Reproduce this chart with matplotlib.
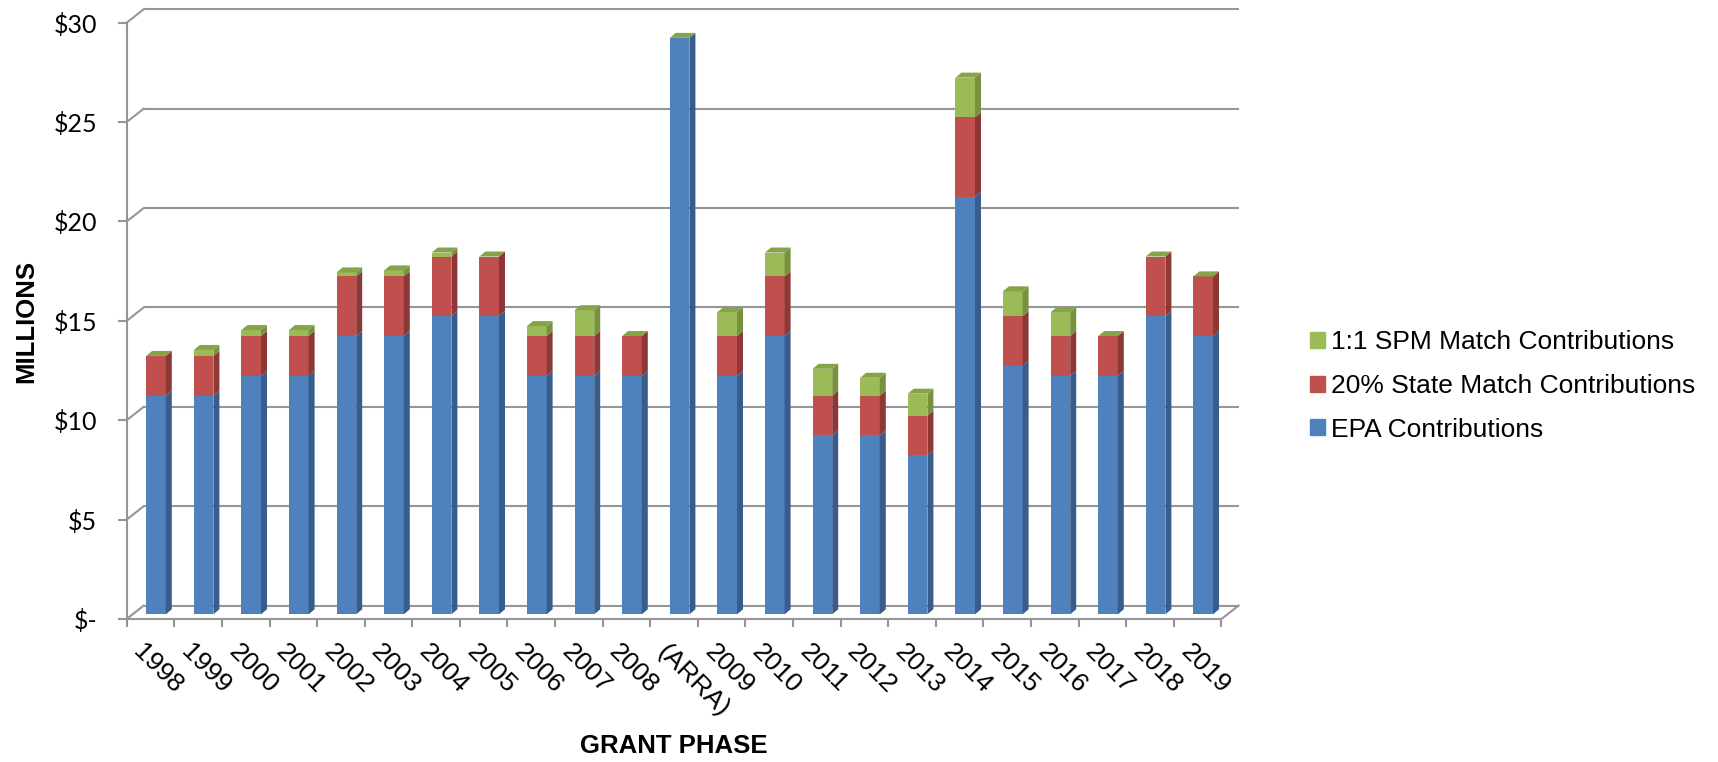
import matplotlib
matplotlib.use("Agg")
import matplotlib.pyplot as plt
from matplotlib.patches import Polygon, Patch
from matplotlib.transforms import ScaledTranslation

plt.rcParams['font.family'] = ['Liberation Sans', 'DejaVu Sans']

# data (millions of $)
phases = ["1998", "1999", "2000", "2001", "2002", "2003", "2004", "2005", "2006",
          "2007", "2008", "(ARRA)", "2009", "2010", "2011", "2012", "2013", "2014",
          "2015", "2016", "2017", "2018", "2019"]
epa = [11, 11, 12, 12, 14, 14, 15, 15, 12, 12, 12, 29, 12, 14, 9, 9, 8, 21, 12.5, 12, 12, 15, 14]
state = [2, 2, 2, 2, 3, 3, 3, 3, 2, 2, 2, 0, 2, 3, 2, 2, 2, 4, 2.5, 2, 2, 3, 3]
spm = [0, 0.3, 0.3, 0.3, 0.2, 0.3, 0.2, 0, 0.5, 1.3, 0, 0, 1.2, 1.2, 1.35, 0.9, 1.1, 2, 1.25, 1.2, 0, 0, 0]
yticks = [0, 5, 10, 15, 20, 25, 30]
ytick_labels = ["$-", "$5", "$10", "$15", "$20", "$25", "$30"]

series_names = ["EPA Contributions", "20% State Match Contributions", "1:1 SPM Match Contributions"]
front_cols = ["#4F81BD", "#C0504D", "#9BBB59"]
side_cols = ["#385D8A", "#8C3836", "#76923C"]
cap_col = "#85A348"
grid = "#969696"

W, H = 1718, 762
fig = plt.figure(figsize=(W / 100, H / 100), dpi=100)

# front plane of the fake 3d box, in pixels
x0, x1 = 126.7, 1221.5
ytop, ybot = 22.7, 619
ax = fig.add_axes([x0 / W, 1 - ybot / H, (x1 - x0) / W, (ybot - ytop) / H])
n = len(phases)
ax.set_xlim(-0.5, n - 0.5)
ax.set_ylim(0, 30)
ppx = (x1 - x0) / n
ppy = (ybot - ytop) / 30

# depth offsets (pixels -> data units)
wdx, wdy = 17 / ppx, 13.4 / ppy     # back wall
shift, bw = 5.5 / ppx, 19.6 / ppx   # bar face
lift = 4.7 / ppy
ddx, ddy = 6 / ppx, 5 / ppy         # bar depth

# back wall gridlines + left wall diagonals
for v in yticks:
    ax.plot([-0.5 + wdx, n - 0.5 + wdx], [v + wdy, v + wdy], color=grid, lw=1.5,
            clip_on=False, zorder=1, solid_capstyle='butt')
    ax.plot([-0.5, -0.5 + wdx], [v, v + wdy], color=grid, lw=1.5, clip_on=False, zorder=1)
ax.plot([n - 0.5, n - 0.5 + wdx], [0, wdy], color=grid, lw=1.5, clip_on=False, zorder=1)

xs = [i + shift for i in range(n)]
cum = [0] * n
for vals, fc, sc in zip([epa, state, spm], front_cols, side_cols):
    bottoms = [c + lift for c in cum]
    ax.bar(xs, vals, width=bw, bottom=bottoms, color=fc, linewidth=0, zorder=3)
    for i in range(n):
        if vals[i] <= 0:
            continue
        xr = xs[i] + bw / 2
        b = bottoms[i]
        t = b + vals[i]
        ax.add_patch(Polygon([(xr, b), (xr + ddx, b + ddy), (xr + ddx, t + ddy), (xr, t)],
                             closed=True, color=sc, lw=0, zorder=3, clip_on=False))
    cum = [c + v for c, v in zip(cum, vals)]

# top caps
for i in range(n):
    xl = xs[i] - bw / 2
    xr = xs[i] + bw / 2
    t = cum[i] + lift
    ax.add_patch(Polygon([(xl, t), (xr, t), (xr + ddx, t + ddy), (xl + ddx, t + ddy)],
                         closed=True, color=cap_col, lw=0, zorder=3, clip_on=False))

for s in ["top", "right"]:
    ax.spines[s].set_visible(False)
for s in ["left", "bottom"]:
    ax.spines[s].set_color(grid)
    ax.spines[s].set_linewidth(1.5)
ax.set_facecolor("none")

# y axis
ax.set_yticks(yticks)
ax.set_yticklabels(ytick_labels, fontfamily="Lato", fontsize=18)
ax.tick_params(axis="y", length=6.3, width=1.5, color=grid, pad=14.8)

# x axis
ax.set_xticks(range(n))
ax.set_xticklabels(phases, fontsize=19, rotation=-45, ha="left", va="top",
                   rotation_mode="anchor")
ax.set_xticks([k - 0.5 for k in range(n + 1)], minor=True)
ax.tick_params(axis="x", which="major", length=0, pad=15.0)
ax.tick_params(axis="x", which="minor", length=5.5, width=1.5, color=grid)
for lab in ax.get_xticklabels():
    lab.set_transform(lab.get_transform() + ScaledTranslation(-5 / 100, 0, fig.dpi_scale_trans))

fig.text(26 / W, 1 - 321 / H, "MILLIONS", rotation=90, ha="center", va="center",
         fontsize=18.5, fontweight="bold")
fig.text(674 / W, 1 - 746 / H, "GRANT PHASE", ha="center", va="center",
         fontsize=18.5, fontweight="bold")

handles = [Patch(color=front_cols[k]) for k in (2, 1, 0)]
labels = [series_names[k] for k in (2, 1, 0)]
fig.legend(handles, labels, loc="center left", bbox_to_anchor=(1310 / W, 1 - 386 / H),
           frameon=False, fontsize=19, handlelength=0.55, handleheight=0.55,
           handletextpad=0.25, labelspacing=0.74, borderpad=0, borderaxespad=0)

fig.savefig("out.png", dpi=100)
